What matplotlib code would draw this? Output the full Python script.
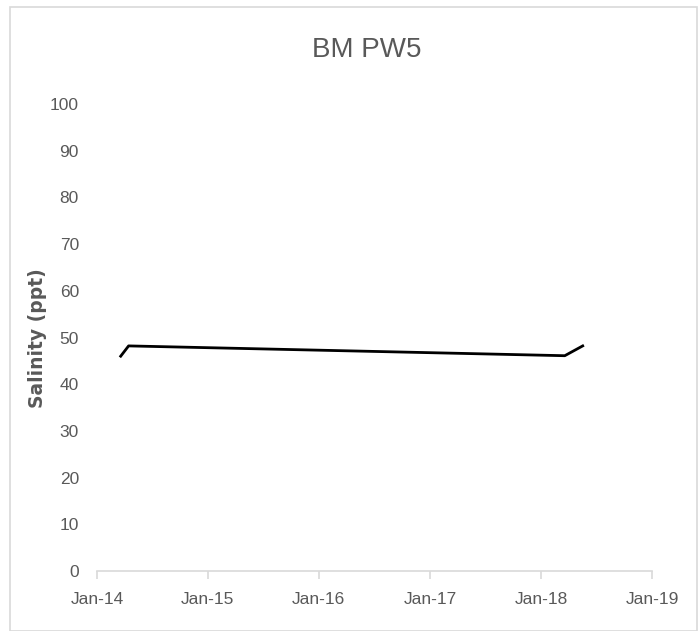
import matplotlib
matplotlib.use("Agg")
import matplotlib.pyplot as plt
import matplotlib.dates as mdates
from matplotlib.patches import Rectangle
import datetime as dt

dates = ["2014-03-20", "2014-04-15", "2018-03-20", "2018-05-18"]
salinity = [46.0, 48.2, 46.1, 48.2]
xtick_years = [2014, 2015, 2016, 2017, 2018, 2019]
yticks = list(range(0, 101, 10))

plt.rcParams['font.family'] = ['Liberation Sans', 'DejaVu Sans']

fig = plt.figure(figsize=(6.98, 6.31), dpi=100)
W, H = 698, 631
fig.patches.append(Rectangle((10 / W, 0), (697 - 10) / W, (631 - 7) / H,
                             transform=fig.transFigure, fill=False,
                             edgecolor='#d9d9d9', linewidth=1.2))
ax = fig.add_axes([97 / W, 1 - 571 / H, (652 - 97) / W, (571 - 104) / H])

x = [dt.datetime.strptime(d, "%Y-%m-%d") for d in dates]
ax.plot(x, salinity, color='black', linewidth=2)

ax.set_xlim(dt.datetime(2014, 1, 1), dt.datetime(2019, 1, 1))
ax.set_ylim(0, 100)
ax.set_yticks(yticks)
ax.set_xticks([dt.datetime(y, 1, 1) for y in xtick_years])
ax.xaxis.set_major_formatter(mdates.DateFormatter("%b-%y"))

for s in ['top', 'right', 'left']:
    ax.spines[s].set_visible(False)
ax.spines['bottom'].set_color('#d9d9d9')
ax.spines['bottom'].set_linewidth(1.2)
ax.tick_params(axis='x', direction='out', length=6, color='#d9d9d9', width=1.2,
               labelsize=12.5, labelcolor='#595959', pad=9)
ax.tick_params(axis='y', length=0, labelsize=12.5, labelcolor='#595959', pad=13)

ax.set_ylabel("Salinity (ppt)", fontsize=13.5, fontweight='bold', color='#595959',
              family=['DejaVu Sans'])
ax.yaxis.set_label_coords(-0.09, 0.499)
fig.text(367 / W, 1 - 50 / H, "BM PW5", ha='center', va='center', fontsize=20,
         color='#595959')

fig.savefig("out.png", dpi=100)
